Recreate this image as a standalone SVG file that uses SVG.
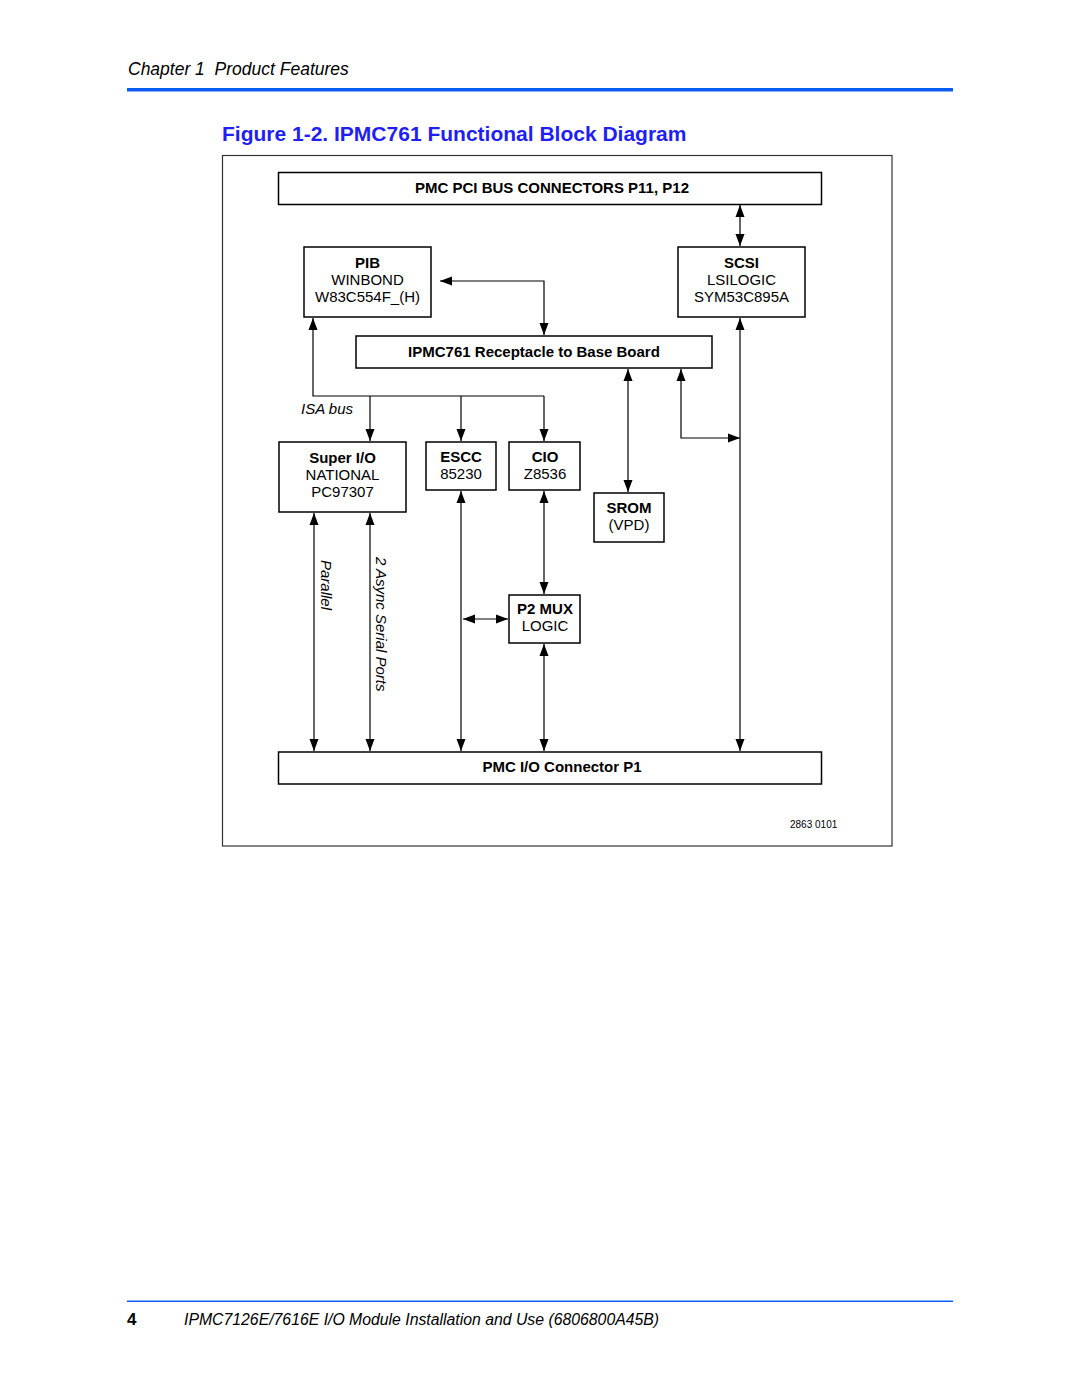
<svg xmlns="http://www.w3.org/2000/svg" width="1080" height="1397" viewBox="0 0 1080 1397">
<style>
text{font-family:"Liberation Sans",Arial,sans-serif;fill:#000}
.box{fill:#fff;stroke:#000;stroke-width:1.5}
.b{font-weight:bold;font-size:15px}
.r{font-size:15px}
.c{text-anchor:middle}
.ln{fill:none;stroke:#000;stroke-width:1.2}
.it{font-style:italic;font-size:15px}
</style>
<defs>
<marker id="ah" markerUnits="userSpaceOnUse" markerWidth="12" markerHeight="10" refX="12" refY="4.5" orient="auto-start-reverse" viewBox="0 0 12 9">
<path d="M0,0 L12,4.5 L0,9 z" fill="#000"/>
</marker>
</defs>
<rect width="1080" height="1397" fill="#fff"/>
<g id="header">
<text x="128" y="75" style="font-style:italic;font-size:17.5px">Chapter 1&#160; Product Features</text>
<rect x="127" y="88" width="826" height="3.5" fill="#0a5cf5"/>
<text x="222" y="141" style="font-weight:bold;font-size:21px;fill:#1f1ff5">Figure 1-2. IPMC761 Functional Block Diagram</text>
</g>
<rect x="222.5" y="155.5" width="669.5" height="690.5" fill="none" stroke="#333" stroke-width="1.2"/>
<g id="connectors">
<line class="ln" x1="740" y1="205" x2="740" y2="246" marker-start="url(#ah)" marker-end="url(#ah)"/>
<polyline class="ln" points="440,281 544,281 544,335" marker-start="url(#ah)" marker-end="url(#ah)"/>
<polyline class="ln" points="313,318 313,396 544,396"  marker-start="url(#ah)"/>
<line class="ln" x1="370" y1="396" x2="370" y2="441" marker-end="url(#ah)"/>
<line class="ln" x1="461" y1="396" x2="461" y2="441" marker-end="url(#ah)"/>
<line class="ln" x1="544" y1="396" x2="544" y2="441" marker-end="url(#ah)"/>
<line class="ln" x1="628" y1="369" x2="628" y2="492" marker-start="url(#ah)" marker-end="url(#ah)"/>
<polyline class="ln" points="681,369 681,438 740,438" marker-start="url(#ah)" marker-end="url(#ah)"/>
<line class="ln" x1="740" y1="318" x2="740" y2="751" marker-start="url(#ah)" marker-end="url(#ah)"/>
<line class="ln" x1="314" y1="513" x2="314" y2="751" marker-start="url(#ah)" marker-end="url(#ah)"/>
<line class="ln" x1="370" y1="513" x2="370" y2="751" marker-start="url(#ah)" marker-end="url(#ah)"/>
<line class="ln" x1="461" y1="491" x2="461" y2="751" marker-start="url(#ah)" marker-end="url(#ah)"/>
<line class="ln" x1="544" y1="491" x2="544" y2="594" marker-start="url(#ah)" marker-end="url(#ah)"/>
<line class="ln" x1="463" y1="619" x2="508" y2="619" marker-start="url(#ah)" marker-end="url(#ah)"/>
<line class="ln" x1="544" y1="644" x2="544" y2="751" marker-start="url(#ah)" marker-end="url(#ah)"/>
<text x="301" y="414" class="it">ISA bus</text>
<text transform="translate(321,560) rotate(90)" class="it">Parallel</text>
<text transform="translate(376,557) rotate(90)" class="it">2 Async Serial Ports</text>
</g>
<g id="pci"><rect class="box" x="278.5" y="172.5" width="543" height="32"/><text class="b c" x="552" y="193">PMC PCI BUS CONNECTORS P11, P12</text></g>
<g id="pib"><rect class="box" x="304" y="247" width="127" height="70"/><text class="b c" x="367.5" y="268">PIB</text><text class="r c" x="367.5" y="285">WINBOND</text><text class="r c" x="367.5" y="302">W83C554F_(H)</text></g>
<g id="scsi"><rect class="box" x="678" y="247" width="127" height="70"/><text class="b c" x="741.5" y="268">SCSI</text><text class="r c" x="741.5" y="285">LSILOGIC</text><text class="r c" x="741.5" y="302">SYM53C895A</text></g>
<g id="receptacle"><rect class="box" x="356" y="336" width="356" height="32"/><text class="b c" x="534" y="357">IPMC761 Receptacle to Base Board</text></g>
<g id="superio"><rect class="box" x="279" y="442" width="127" height="70"/><text class="b c" x="342.5" y="463">Super I/O</text><text class="r c" x="342.5" y="480">NATIONAL</text><text class="r c" x="342.5" y="497">PC97307</text></g>
<g id="escc"><rect class="box" x="426" y="442" width="70" height="48"/><text class="b c" x="461" y="462">ESCC</text><text class="r c" x="461" y="479">85230</text></g>
<g id="cio"><rect class="box" x="509" y="442" width="71" height="48"/><text class="b c" x="545" y="462">CIO</text><text class="r c" x="545" y="479">Z8536</text></g>
<g id="srom"><rect class="box" x="594" y="493" width="70" height="49"/><text class="b c" x="629" y="513">SROM</text><text class="r c" x="629" y="530">(VPD)</text></g>
<g id="p2mux"><rect class="box" x="509" y="595" width="71" height="48"/><text class="b c" x="545" y="614">P2 MUX</text><text class="r c" x="545" y="631">LOGIC</text></g>
<g id="pmcio"><rect class="box" x="278.5" y="752" width="543" height="32"/><text class="b c" x="562" y="772">PMC I/O Connector P1</text></g>
<text x="790" y="828" style="font-size:10px">2863 0101</text>
<g id="footer">
<rect x="127" y="1300.5" width="826" height="1.5" fill="#0a5cf5"/>
<text x="127" y="1325" style="font-weight:bold;font-size:17px">4</text>
<text x="184" y="1325" style="font-style:italic;font-size:15.8px">IPMC7126E/7616E I/O Module Installation and Use (6806800A45B)</text>
</g>
</svg>
